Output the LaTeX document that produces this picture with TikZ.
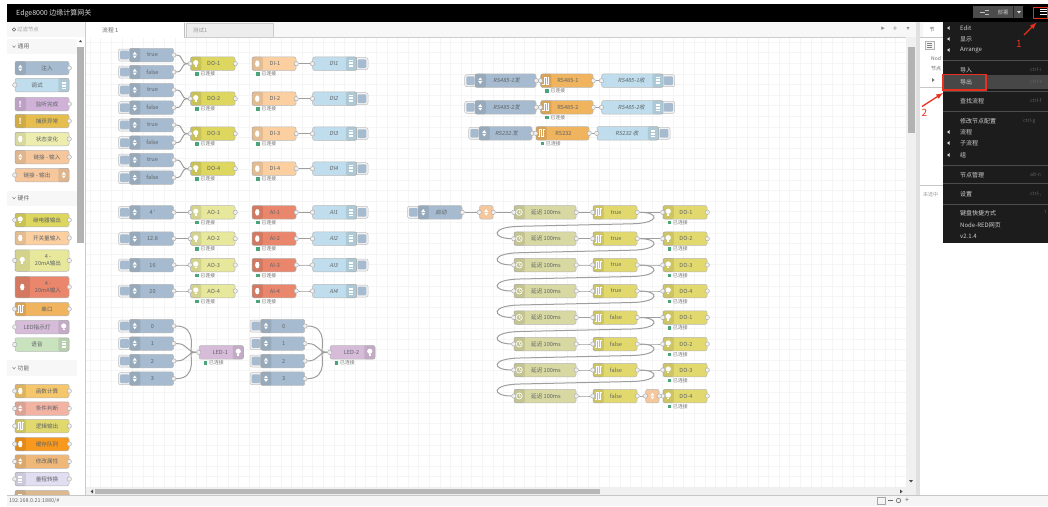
\documentclass[tikz,border=0pt]{standalone}
\usepackage{fontspec}
\setmainfont{Noto Sans CJK SC}
\newfontfamily\slantfont[FakeSlant=0.2]{Noto Sans CJK SC}
\usetikzlibrary{calc}
\pgfdeclarelayer{gridlayer}\pgfdeclarelayer{wirelayer}
\pgfsetlayers{gridlayer,wirelayer,main}
\definecolor{cinject}{HTML}{A6BBCF}\definecolor{cdo}{HTML}{DDD65F}\definecolor{cdi}{HTML}{FBCFA0}
\definecolor{cdebug}{HTML}{BFDDEC}\definecolor{cao}{HTML}{E8E89C}\definecolor{cai}{HTML}{E9866C}
\definecolor{cled}{HTML}{D6BCD8}\definecolor{ctrig}{HTML}{E2D96E}\definecolor{cdelay}{HTML}{D8D8A2}
\definecolor{cserial}{HTML}{F0B35E}\definecolor{cfunc}{HTML}{F6C79C}\definecolor{ctxt}{HTML}{5F6468}
\definecolor{cgreen}{HTML}{4BA57A}\definecolor{cmenu}{HTML}{1C1C1C}\definecolor{cred}{HTML}{E8301C}
\definecolor{cdone}{HTML}{D0B2D8}\definecolor{ccatch}{HTML}{E6BE4E}\definecolor{cvoice}{HTML}{C9E3BF}
\definecolor{cfn}{HTML}{F5C66A}\definecolor{cswitch}{HTML}{F2B3A2}\definecolor{cqueue}{HTML}{F8981D}
\definecolor{cchange}{HTML}{F0B878}\definecolor{crange}{HTML}{E2DEF2}\definecolor{cpart}{HTML}{DDB98F}
\tikzset{
  flowbox/.style={draw=black!28,line width=.5pt,rounded corners=2pt,minimum height=13.5pt,inner sep=0pt,text=ctxt,font=\fontsize{5.6}{6.6}\selectfont,align=center},
  tallbox/.style={flowbox,minimum height=21.5pt},
  port/.style={circle,draw=black!32,fill=black!6,line width=.5pt,minimum size=4.4pt,inner sep=0pt},
  wire/.style={draw=black!38,line width=1pt},
  strip/.style={fill=black,fill opacity=.09,rounded corners=2pt},
  btn/.style={draw=black!25,fill=black!5,rounded corners=2pt,line width=.5pt},
  btninner/.style={fill=cinject,rounded corners=1pt},
  sttext/.style={inner sep=0pt,text=black!55,font=\fontsize{4.8}{5.5}\selectfont,anchor=west},
  stsq/.style={fill=cgreen,minimum size=3.6pt,inner sep=0pt},
  sidetxt/.style={inner sep=0pt,text=black!60,font=\fontsize{5.8}{7}\selectfont},
  menutxt/.style={inner sep=0pt,text=black!18,font=\fontsize{6}{7}\selectfont,anchor=west},
  menukey/.style={inner sep=0pt,text=black!62,font=\fontsize{5}{6}\selectfont,anchor=west},
  menusep/.style={draw=black!70,line width=.4pt},
  redbox/.style={draw=cred,line width=1.1pt},
  redarrow/.style={draw=cred,line width=1.3pt,-latex},
  redtxt/.style={inner sep=0pt,text=cred,font=\fontsize{10}{11}\selectfont},
  pics/bulbic/.style={code={\fill[white] (0,-1) circle (2.6);\fill[white] (-1.1,1.6) rectangle (1.1,3.4);}},
  pics/arrowsic/.style={code={\fill[white] (-2,-.5) -- (0,-3.2) -- (2,-.5) -- cycle;\fill[white] (-2,.5) -- (0,3.2) -- (2,.5) -- cycle;}},
  pics/chipic/.style={code={\fill[white] (-1.2,-3) -- (1.2,-3) -- (2.2,0) -- (1.2,3) -- (-1.2,3) -- (-2.2,0) -- cycle;}},
  pics/waveic/.style={code={\draw[white,line width=.9pt] (-3.5,3.5) -- (-2,3.5) -- (-2,-3.5) -- (0,-3.5) -- (0,3.5) -- (2,3.5) -- (2,-3.5) -- (3.5,-3.5);}},
  pics/clockic/.style={code={\draw[white,line width=.7pt] (0,0) circle (3);\draw[white,line width=.5pt] (0,-1.8) -- (0,0) -- (1.5,.6);}},
  pics/barsic/.style={code={\foreach \q in {-3,-1.5,0,1.5,3}\draw[white,line width=.7pt] (-2,\q) -- (2,\q);}},
}
\newcommand\lsh{2pt}
% name, x1, x2, cy, colour, label
\newcommand\nrbody[6]{\node[flowbox,fill=#5,minimum width={(#3-#2)*1pt}] (#1) at ({(#2+#3)/2},#4) {#6};}
\newcommand\portin[1]{\node[port] (#1-i) at (#1.west) {};}
\newcommand\portout[1]{\node[port] (#1-o) at (#1.east) {};}
\newcommand\stripL[2]{\fill[strip] (#1.north west) rectangle ([xshift=#2pt]#1.south west);}
\newcommand\stripR[2]{\fill[strip] (#1.north east) rectangle ([xshift=-#2pt]#1.south east);}
% left icon node: name x1 x2 cy colour label icon
\newcommand\nrL[7]{\nrbody{#1}{#2}{#3}{#4}{#5}{\hspace{\lsh}#6}\stripL{#1}{11}\pic at ([xshift=5.5pt]#1.west) {#7};\portin{#1}\portout{#1}}
\newcommand\nrLo[7]{\nrbody{#1}{#2}{#3}{#4}{#5}{\hspace{\lsh}#6}\stripL{#1}{11}\pic at ([xshift=5.5pt]#1.west) {#7};\portout{#1}}
\newcommand\nrR[7]{\nrbody{#1}{#2}{#3}{#4}{#5}{#6\hspace{\lsh}}\stripR{#1}{11}\pic at ([xshift=-5.5pt]#1.east) {#7};\portin{#1}}
% inject: name xbtn x1 x2 cy label
\newcommand\nrinj[6]{\fill[btn] (#2,#5-6) rectangle (#3+3,#5+6);\fill[btninner] (#2+1.6,#5-4.3) rectangle (#3-.5,#5+4.3);\nrLo{#1}{#3}{#4}{#5}{cinject}{#6}{arrowsic}}
% debug: name x1 x2 xbtn cy label
\newcommand\nrdbg[6]{\fill[btn] (#3-3,#5-6) rectangle (#4,#5+6);\fill[btninner] (#3+.8,#5-4.3) rectangle (#4-1.6,#5+4.3);\nrR{#1}{#2}{#3}{#5}{cdebug}{#6}{barsic}}
% status: name x y
\newcommand\nrst[3]{\node[stsq] (#1-sq) at (#2,#3) {};\node[sttext] (#1-st) at (#2+3.5,#3) {已连接};}
\newcommand\link[2]{\begin{pgfonlayer}{wirelayer}\draw[wire] (#1.east) .. controls +(8,0) and +(-8,0) .. (#2.west);\end{pgfonlayer}}
\newcommand\looplink[3]{\begin{pgfonlayer}{wirelayer}\draw[wire] (#1.east) .. controls (660,#3) and (660,#3+11) .. (632,#3+11.5) -- (520,#3+14) .. controls (490,#3+14.5) and (492,#3+26) .. (#2.west);\end{pgfonlayer}}
\begin{document}
\begin{tikzpicture}[x=1pt,y=-1pt]
\useasboundingbox (0,0) rectangle (1048,506);
\begin{pgfonlayer}{gridlayer}
\fill[white] (0,0) rectangle (1048,506);
\begin{scope}
\clip (86,37) rectangle (906,487);
\foreach \gx in {0,...,80}\draw[black!4,line width=.4pt] ({90+\gx*10.6},37) -- ({90+\gx*10.6},487);
\foreach \gy in {0,...,43}\draw[black!4,line width=.4pt] (86,{42+\gy*10.6}) -- (906,{42+\gy*10.6});
\end{scope}
\end{pgfonlayer}
% ---------- header
\fill[black] (7,4) rectangle (1048,22);
\node[inner sep=0pt,anchor=west,text=black!15,font=\fontsize{7}{8}\selectfont] (title) at (16,13) {Edge8000 边缘计算网关};
% ---------- tab bar
\fill[black!3] (86,22) rectangle (916,37);
\draw[black!20,line width=.4pt] (86,37) -- (916,37);
\fill[white] (86,22) rectangle (184,37.5);
\draw[black!25,line width=.4pt] (184,23) -- (184,37);
\node[inner sep=0pt,anchor=west,text=black!60,font=\fontsize{5.8}{7}\selectfont] (tab1) at (102,30) {流程 1};
\fill[black!7] (186.5,23) rectangle (273,37);
\draw[black!20,line width=.4pt] (186.5,23) rectangle (273,37);
\node[inner sep=0pt,anchor=west,text=black!40,font=\fontsize{5.4}{7}\selectfont] (tab2) at (193,30) {测试1};
\node[inner sep=0pt,text=black!45,font=\fontsize{7}{8}\selectfont] (tabr1) at (883,29) {\fontspec{DejaVu Sans}▸};
\node[inner sep=0pt,text=black!45,font=\fontsize{8}{8}\selectfont] (tabr2) at (895,29) {+};
\node[inner sep=0pt,text=black!45,font=\fontsize{6}{8}\selectfont] (tabr3) at (908,29) {\fontspec{DejaVu Sans}▾};
% ---------- scrollbars
\fill[black!6] (906,37) rectangle (916,487);
\fill[black!30] (907.5,47) rectangle (914.5,133);
\fill[black!6] (86,487) rectangle (916,495);
\fill[black!28] (95,488.5) rectangle (600,494);
\fill[black!70] (909,480) -- (913,480) -- (911,482.5) -- cycle;
\fill[black!70] (900,489.5) -- (900,493.5) -- (902.5,491.5) -- cycle;
\fill[black!70] (93,489.5) -- (93,493.5) -- (90.5,491.5) -- cycle;
\fill[black!12] (916,22) rectangle (920,495);
% ---------- palette
\renewcommand\lsh{10pt}
\draw[black!20,line width=.5pt] (85.5,22) -- (85.5,495);
\fill[black!3] (7,22) rectangle (85,37);
\node[sidetxt,anchor=west,text=black!38] (search) at (17,29.5) {\fontsize{5.4}{7}\selectfont 过滤节点};
\draw[black!60,line width=.6pt] (14,29.5) circle (1.8);
\fill[black!3] (7,39) rectangle (77,54);
\fill[black!3] (7,191) rectangle (77,206);
\fill[black!3] (7,360) rectangle (77,376);
\node[sidetxt] (secA) at (23.5,46.5) {通用};
\node[sidetxt] (secB) at (23.5,198) {硬件};
\node[sidetxt] (secC) at (23.5,368) {功能};
\draw[black!50,line width=.5pt] (12.5,45.5) -- (14,47.5) -- (15.5,45.5);
\draw[black!50,line width=.5pt] (12.5,197) -- (14,199) -- (15.5,197);
\draw[black!50,line width=.5pt] (12.5,367) -- (14,369) -- (15.5,367);
\fill[black!30] (77,47) rectangle (84,243);
\fill[black!70] (79,42) -- (82,42) -- (80.5,40) -- cycle;
\nrLo{pa}{15}{69}{68}{cinject}{注入}{arrowsic}
\nrR{pb}{15}{69}{85}{cdebug}{调试}{barsic}
\nrbody{pc}{15}{69}{104}{cdone}{\hspace{\lsh}监听完成}\stripL{pc}{11}\node[inner sep=0pt,text=white,font=\bfseries\fontsize{8}{8}\selectfont] (pcx) at ([xshift=5.5pt]pc.west) {!};\portout{pc}
\nrbody{pd}{15}{69}{121}{ccatch}{\hspace{\lsh}捕获异常}\stripL{pd}{11}\node[inner sep=0pt,text=white,font=\bfseries\fontsize{8}{8}\selectfont] (pdx) at ([xshift=5.5pt]pd.west) {!};\portout{pd}
\nrLo{pe}{15}{69}{139}{cao!80!white}{状态变化}{chipic}
\nrLo{pf}{15}{69}{157}{cfunc}{链接 - 输入}{arrowsic}
\nrR{pg}{15}{69}{175}{cfunc}{链接 - 输出}{arrowsic}
\nrL{ph}{15}{69}{220}{cdo}{继电器输出}{bulbic}
\nrLo{pi}{15}{69}{238}{cdi}{开关量输入}{chipic}
\node[tallbox,fill=cao,minimum width=54pt] (pj) at (42,260.5) {\hspace{12pt}4 -\\\hspace{12pt}20mA输出};
\stripL{pj}{15}\pic at ([xshift=7.5pt]pj.west) {bulbic};\portin{pj}\portout{pj}
\node[tallbox,fill=cai,minimum width=54pt] (pk) at (42,287) {\hspace{12pt}4 -\\\hspace{12pt}20mA输入};
\stripL{pk}{15}\pic at ([xshift=7.5pt]pk.west) {chipic};\portout{pk}
\nrL{pl}{15}{69}{309}{cserial}{串口}{waveic}
\nrR{pm}{15}{69}{327}{cled}{LED指示灯}{bulbic}
\nrR{pn}{15}{69}{344.5}{cvoice}{语音}{barsic}
\nrL{po}{15}{69}{391}{cfn}{函数计算}{chipic}
\nrL{pp}{15}{69}{408.5}{cswitch}{条件判断}{arrowsic}
\nrL{pq}{15}{69}{426}{ctrig}{逻辑输出}{waveic}
\nrL{pr}{15}{69}{444}{cqueue}{缓存队列}{chipic}
\nrL{ps}{15}{69}{461.5}{cchange}{修改属性}{arrowsic}
\nrL{pt}{15}{69}{479}{crange}{量程转换}{barsic}
\nrL{pu}{15}{69}{497}{cpart}{}{barsic}
\renewcommand\lsh{2pt}
% bottom bar
\fill[black!4] (7,495) rectangle (1048,506);
\draw[black!22,line width=.4pt] (7,495) -- (1048,495);
\fill[white] (0,490) rectangle (6.8,506);
\node[inner sep=0pt,anchor=west,text=black!60,font=\fontsize{5.4}{7}\selectfont] (url) at (9,500.5) {192.168.0.21:1880/\#};
\draw[black!35,line width=.5pt] (877,497) rectangle (885,504);
\draw[black!60,line width=.8pt] (888,500.5) -- (893,500.5);
\draw[black!60,line width=.6pt] (898.5,500.5) circle (2.2);
\node[inner sep=0pt,text=black!60,font=\fontsize{7}{7}\selectfont] (zoomplus) at (907,500.5) {+};
% ---------- flow group 1
\foreach \k/\ya/\yb/\yc in {1/55/72/63.7,2/90/107.7/98.7,3/125/142.7/133.7,4/160/177.7/168.7}{
  \nrinj{t\k}{118.5}{129.5}{173.5}{\ya}{true}
  \nrinj{f\k}{118.5}{129.5}{173.5}{\yb}{false}
  \nrL{do\k}{190.5}{235}{\yc}{cdo}{DO-\k}{bulbic}
  \nrst{dos\k}{197}{\yc+10.3}
  \link{t\k-o}{do\k-i}\link{f\k-o}{do\k-i}
  \nrLo{di\k}{252}{296}{\yc}{cdi}{DI-\k}{chipic}
  \nrst{dis\k}{258}{\yc+10.3}
  \nrdbg{dd\k}{312.7}{356.7}{368}{\yc}{\slantfont DI\k}
  \link{di\k-o}{dd\k-i}
}
% ---------- flow group 2
\foreach \k/\yc/\v in {1/212.3/4 \textquotesingle,2/238.7/12.8,3/265/16,4/291/20}{
  \nrinj{ai\k}{118.5}{129.5}{173.5}{\yc}{\v}
  \nrL{ao\k}{190.5}{235}{\yc}{cao}{AO-\k}{bulbic}
  \nrst{aos\k}{197}{\yc+10.3}
  \link{ai\k-o}{ao\k-i}
  \nrLo{an\k}{252}{296}{\yc}{cai}{AI-\k}{chipic}
  \nrst{ans\k}{258}{\yc+10.3}
  \nrdbg{ad\k}{312.7}{356.7}{368}{\yc}{\slantfont AI\k}
  \link{an\k-o}{ad\k-i}
}
% ---------- LEDs
\nrR{led1}{199}{243.5}{352.3}{cled}{LED-1}{bulbic}
\nrst{ledst1}{205.5}{362.7}
\nrR{led2}{330}{375}{352.3}{cled}{LED-2}{bulbic}
\nrst{ledst2}{336.5}{362.7}
\foreach \k/\yc in {0/326,1/343.5,2/361,3/378.7}{
  \nrinj{la\k}{118.5}{129.5}{173.5}{\yc}{\k}
  \nrinj{lb\k}{250}{260.7}{304.7}{\yc}{\k}
}
\begin{pgfonlayer}{wirelayer}
\foreach \k in {0,3}{
  \draw[wire] (la\k-o.east) .. controls +(22,0) and +(-2,0) .. ($(led1-i.west)+(-5,0)$) -- (led1-i.west);
  \draw[wire] (lb\k-o.east) .. controls +(22,0) and +(-2,0) .. ($(led2-i.west)+(-5,0)$) -- (led2-i.west);
}
\foreach \k in {1,2}{
  \draw[wire] (la\k-o.east) .. controls +(12,0) and +(-10,0) .. (led1-i.west);
  \draw[wire] (lb\k-o.east) .. controls +(12,0) and +(-10,0) .. (led2-i.west);
}
\end{pgfonlayer}
% ---------- RS nodes
\nrinj{rsa}{464.7}{475}{536}{80.7}{\slantfont RS485-1发}
\nrL{rsb}{540.7}{593}{80.7}{cserial}{RS485-1}{waveic}
\nrdbg{rsc}{601.7}{663}{674.7}{80.7}{\slantfont RS485-1收}
\nrst{rsd}{547}{91}
\link{rsa-o}{rsb-i}\link{rsb-o}{rsc-i}
\nrinj{rse}{464.7}{475}{536}{107.3}{\slantfont RS485-2发}
\nrL{rsf}{540.7}{593}{107.3}{cserial}{RS485-2}{waveic}
\nrdbg{rsg}{601.7}{663}{674.7}{107.3}{\slantfont RS485-2收}
\nrst{rsh}{547}{117.5}
\link{rse-o}{rsf-i}\link{rsf-o}{rsg-i}
\nrinj{rsi}{468.7}{479}{532}{133.3}{\slantfont RS232 发}
\nrL{rsj}{536}{589}{133.3}{cserial}{RS232}{waveic}
\nrdbg{rsk}{597}{658.7}{670}{133.3}{\slantfont RS232 收}
\nrst{rsl}{542.5}{143.5}
\link{rsi-o}{rsj-i}\link{rsj-o}{rsk-i}
% ---------- delay chain
\nrinj{start}{407.5}{418}{462}{212.3}{\slantfont 启动}
\nrbody{fa}{479.5}{493}{212.3}{cfunc}{}\pic at (fa.center) {arrowsic};\portin{fa}\portout{fa}
\link{start-o}{fa-i}
\foreach \k/\yc/\v/\n in {1/212.3/true/1,2/238.7/true/2,3/265/true/3,4/291/true/4,5/317.5/false/1,6/344/false/2,7/370/false/3,8/396/false/4}{
  \nrL{de\k}{514}{576}{\yc}{cdelay}{延迟 100ms}{clockic}
  \nrL{tr\k}{593}{637}{\yc}{ctrig}{\v}{waveic}
  \nrL{ou\k}{663}{707}{\yc}{ctrig}{DO-\n}{bulbic}
  \nrst{ous\k}{669.5}{\yc+10.3}
  \link{de\k-o}{tr\k-i}
}
\foreach \k in {1,...,7}{\link{tr\k-o}{ou\k-i}}
\nrbody{fb}{645.7}{659}{396}{cfunc}{}\pic at (fb.center) {arrowsic};\portin{fb}\portout{fb}
\link{tr8-o}{fb-i}\link{fb-o}{ou8-i}
\link{fa-o}{de1-i}
\looplink{tr1-o}{de2-i}{212.3}
\looplink{tr2-o}{de3-i}{238.7}
\looplink{tr3-o}{de4-i}{265}
\looplink{tr4-o}{de5-i}{291}
\looplink{tr5-o}{de6-i}{317.5}
\looplink{tr6-o}{de7-i}{344}
\looplink{tr7-o}{de8-i}{370}
% ---------- right sidebar
\fill[black!4] (920,22) rectangle (1048,37);
\draw[black!22,line width=.4pt] (920,37) -- (1048,37);
\fill[white] (923,23) rectangle (942,37);
\node[sidetxt] (sbtab) at (932,29.5) {\fontsize{5}{7}\selectfont 节};
\draw[black!30,line width=.4pt,fill=black!4] (925,41) rectangle (934,49);
\foreach \q in {43,45,47}\draw[black!50,line width=.4pt] (927,\q) -- (932,\q);
\node[sidetxt,anchor=west,font=\fontsize{5}{7}\selectfont] (sbnode) at (931,59) {Nod};
\node[sidetxt,anchor=west,font=\fontsize{5}{7}\selectfont] (sbnode2) at (931,69) {节点};
\fill[black!55] (932,78) -- (932,82) -- (934.5,80) -- cycle;
\draw[black!22,line width=.4pt] (920,87) -- (943,87);
\draw[black!22,line width=.4pt] (920,185) -- (943,185);
\node[sidetxt,anchor=west,font=\fontsize{5}{7}\selectfont,text=black!40] (sbnone) at (923,195) {未选中};
% ---------- deploy + hamburger
\fill[black!70] (973,6) rectangle (1023,18);
\fill[black!85] (1013,6) rectangle (1014,18);
\draw[black!25,line width=.6pt] (980,12) -- (985,12) (985,10) -- (989,10) (985,14) -- (989,14);
\node[inner sep=0pt,text=black!25,font=\fontsize{5.4}{7}\selectfont] (deploy) at (1003,12) {部署};
\fill[black!15] (1017,11) -- (1021,11) -- (1019,13.5) -- cycle;
\foreach \q in {9,11.5,14}\draw[white,line width=1pt] (1040,\q) -- (1048,\q);
\draw[redbox] (1033.5,7.5) rectangle (1048,18.5);
% ---------- menu
\fill[cmenu] (942.5,22) rectangle (1048,243);
\fill[black!72] (943.5,75) rectangle (1048,89);
\foreach \q/\lab/\nm in {28/Edit/ma,39/显示/mb,50/Arrange/mc,70/导入/md,82/导出/me,101/查找流程/mf,121/修改节点配置/mg,132/流程/mh,143/子流程/mi,155/组/mj,175/节点管理/mk,194/设置/ml,213/键盘快捷方式/mm,225/Node-RED网页/mn,236/v2.1.4/mo}{
  \node[menutxt] (\nm) at (960,\q) {\lab};
}
\foreach \q in {28,39,50,132,143,155}{\fill[black!15] (949.5,\q-1.8) -- (949.5,\q+1.8) -- (947,\q) -- cycle;}
\foreach \q in {60,91,111,165,183,204}{\draw[menusep] (943,\q) -- (1048,\q);}
\begin{scope}
\clip (940,22) rectangle (1048,243);
\node[menukey] (ka) at (1030,70) {ctrl-i};
\node[menukey] (kb) at (1030,82) {ctrl-e};
\node[menukey] (kc) at (1030,101) {ctrl-f};
\node[menukey] (kd) at (1023,121) {ctrl-g};
\node[menukey] (ke) at (1030,175) {alt-n};
\node[menukey] (kf) at (1030,194) {ctrl-,};
\node[menukey] (kg) at (1044,213) {?};
\end{scope}
\draw[redbox] (943,74.5) rectangle (986,90);
% ---------- annotations
\coordinate (a1from) at (1024,35);
\coordinate (a1to) at (1036.5,22.5);
\coordinate (a2from) at (922,106.5);
\coordinate (a2to) at (943,93);
\draw[redarrow] (a1from) -- (a1to);
\draw[redarrow] (a2from) -- (a2to);
\node[redtxt] (n1) at (1019,44) {1};
\node[redtxt] (n2) at (924.5,113) {2};
\end{tikzpicture}
\end{document}
